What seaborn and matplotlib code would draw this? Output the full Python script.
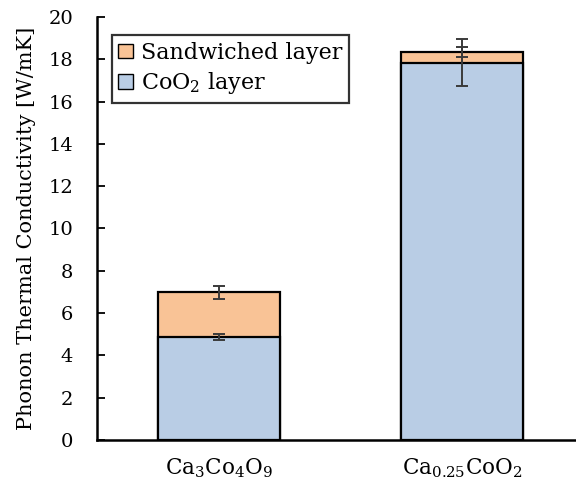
import matplotlib
matplotlib.use("Agg")
import matplotlib.pyplot as plt
import seaborn as sns
import pandas as pd
from matplotlib.patches import Patch

categories = ["Ca$_3$Co$_4$O$_9$", "Ca$_{0.25}$CoO$_2$"]
coo2_layer = [4.87, 17.84]
coo2_err = [0.13, 1.1]
sandwiched_layer = [2.11, 0.49]
total_err = [0.31, 0.24]
total = [a + b for a, b in zip(coo2_layer, sandwiched_layer)]

orange = "#F9C396"
blue = "#B9CDE5"

sns.set_theme(style="white")
plt.rcParams['font.family'] = ['DejaVu Serif']
plt.rcParams['mathtext.fontset'] = 'dejavuserif'
plt.rcParams['text.color'] = 'black'
plt.rcParams['axes.labelcolor'] = 'black'
plt.rcParams['xtick.color'] = 'black'
plt.rcParams['ytick.color'] = 'black'

fig = plt.figure(figsize=(5.76, 4.84), dpi=100)
ax = fig.add_axes([0.168, 0.091, 0.832, 0.874])

df = pd.DataFrame({"cat": categories, "total": total, "coo2": coo2_layer})
sns.barplot(data=df, x="cat", y="total", color=orange, saturation=1, width=0.5,
            edgecolor="black", linewidth=1.6, ax=ax)
sns.barplot(data=df, x="cat", y="coo2", color=blue, saturation=1, width=0.5,
            edgecolor="black", linewidth=1.6, ax=ax)

xpos = list(range(len(categories)))
ax.errorbar(xpos, total, yerr=total_err, fmt="none", ecolor="#3a3a3a",
            elinewidth=1.4, capsize=4.5, capthick=1.4, zorder=5)
ax.errorbar(xpos, coo2_layer, yerr=coo2_err, fmt="none", ecolor="#3a3a3a",
            elinewidth=1.4, capsize=4.5, capthick=1.4, zorder=5)

ax.set_xlim(-0.502, 1.47)
ax.set_ylim(0, 20)
ax.set_yticks(range(0, 21, 2))
ax.set_xlabel("")
ax.set_ylabel("Phonon Thermal Conductivity [W/mK]", fontsize=15, color="black")
ax.yaxis.set_label_coords(-0.127, 0.5)
ax.tick_params(axis="y", direction="in", length=6, width=1.3, color="black",
               labelcolor="black", labelsize=14, left=True, pad=17)
ax.tick_params(axis="x", length=0, labelsize=15.5, labelcolor="black", pad=12)
for s in ["top", "right"]:
    ax.spines[s].set_visible(False)
for s in ["left", "bottom"]:
    ax.spines[s].set_color("black")
    ax.spines[s].set_linewidth(1.8)

handles = [Patch(facecolor=orange, edgecolor="black", linewidth=1, label="Sandwiched layer"),
           Patch(facecolor=blue, edgecolor="black", linewidth=1, label="CoO$_2$ layer")]
leg = ax.legend(handles=handles, loc="upper left", bbox_to_anchor=(0.031, 0.957),
                borderaxespad=0, fontsize=16, frameon=True, fancybox=False,
                handlelength=0.65, handleheight=0.65, handletextpad=0.35,
                borderpad=0.3, labelspacing=0.3)
leg.get_frame().set_edgecolor("black")
leg.get_frame().set_linewidth(1.6)
for t in leg.get_texts():
    t.set_color("black")

fig.savefig("out.png", dpi=100)
